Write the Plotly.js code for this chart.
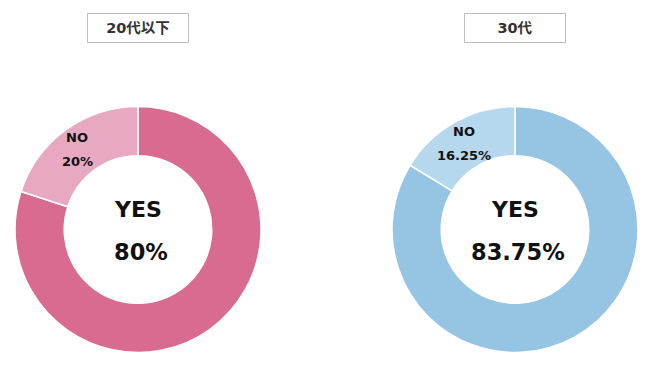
<!DOCTYPE html>
<html><head><meta charset="utf-8">
<script src="https://cdn.plot.ly/plotly-3.0.1.min.js"></script>
<style>html,body{margin:0;padding:0;background:#fff}#c{width:650px;height:365px}</style>
</head><body><div id="c"></div>
<script>
const groups = ['20代以下', '30代'];
const labels = ['YES', 'NO'];
const values20 = [80, 20];
const values30 = [83.75, 16.25];
const yesColors = ['#D96B91', '#96C5E3'];
const noColors = ['#E8A8C1', '#B6D8EC'];

const W = 650, H = 365, HOLE = 0.6;
const allValues = [values20, values30];
const domains = [{x:[0.0231,0.4015], y:[0.0329,0.7096]}, {x:[0.6031,0.9815], y:[0.0329,0.7096]}];
const font = '"DejaVu Sans", "Noto Sans CJK JP", sans-serif';

const fmt = v => (Math.round(v*100)/100) + '%';

const traces = allValues.map((vals, i) => ({
  type: 'pie', labels: labels, values: vals, sort: false, direction: 'clockwise', rotation: 0,
  hole: HOLE, domain: domains[i],
  marker: {colors: [yesColors[i], noColors[i]], line: {color: '#ffffff', width: 1.5}},
  textinfo: 'none', showlegend: false, hoverinfo: 'label+percent'
}));

const annotations = [];
allValues.forEach((vals, i) => {
  const d = domains[i];
  const cx = (d.x[0] + d.x[1]) / 2;
  const cy = (d.y[0] + d.y[1]) / 2;
  const R = Math.min((d.x[1]-d.x[0])*W, (d.y[1]-d.y[0])*H) / 2;
  annotations.push({xref:'paper', yref:'paper', x: cx, y: cy + 0.055, text: '<b>' + labels[0] + '</b>', showarrow:false,
    font:{family:font, size:22, color:'#111111'}, xanchor:'center', yanchor:'middle'});
  annotations.push({xref:'paper', yref:'paper', x: cx + 0.004, y: cy - 0.061, text: '<b>' + fmt(vals[0]) + '</b>', showarrow:false,
    font:{family:font, size:22.5, color:'#111111'}, xanchor:'center', yanchor:'middle'});
  // NO slice label, placed at slice centroid computed from the data
  const total = vals[0] + vals[1];
  const midFrac = (vals[0] + vals[1] / 2) / total;
  const ang = midFrac * 2 * Math.PI; // clockwise from 12 o'clock
  const rm = R * (1 + HOLE) / 2;
  const px = cx * W + rm * Math.sin(ang) - 3;
  const py = (1 - cy) * H - rm * Math.cos(ang);
  annotations.push({xref:'paper', yref:'paper', x: px / W, y: 1 - (py - 12) / H, text: '<b>' + labels[1] + '</b>', showarrow:false,
    font:{family:font, size:13, color:'#111111'}, xanchor:'center', yanchor:'middle'});
  annotations.push({xref:'paper', yref:'paper', x: px / W, y: 1 - (py + 12) / H, text: '<b>' + fmt(vals[1]) + '</b>', showarrow:false,
    font:{family:font, size:13, color:'#111111'}, xanchor:'center', yanchor:'middle'});
  annotations.push({xref:'paper', yref:'paper', x: cx, y: 1 - 28/H, text: '<b>' + groups[i] + '</b>', showarrow:false,
    font:{family:font, size:14.5, color:'#333333'}, xanchor:'center', yanchor:'middle',
    bordercolor:'#BFBFBF', borderwidth:1, bgcolor:'#ffffff', width: 98, height: 26});
});

Plotly.newPlot('c', traces, {
  width: W, height: H, margin: {l:0, r:0, t:0, b:0},
  paper_bgcolor: '#ffffff', annotations: annotations
}, {displayModeBar: false, staticPlot: true});
</script></body></html>
